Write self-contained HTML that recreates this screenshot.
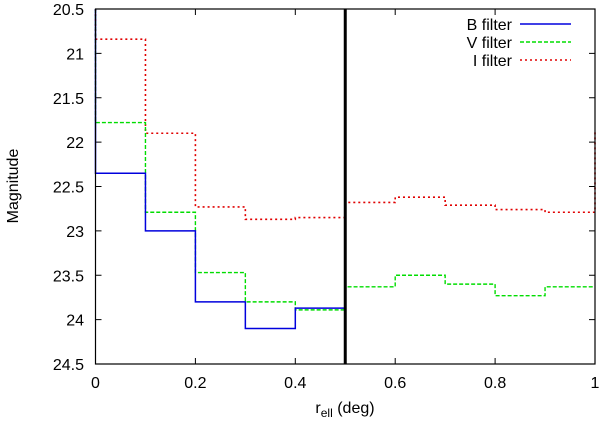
<!DOCTYPE html>
<html><head><meta charset="utf-8"><style>
body{margin:0;background:#fff;}
svg{display:block;font-family:"Liberation Sans",sans-serif;}
</style></head><body>
<svg id="chart" width="600" height="421"></svg>
<script>
const xEdges=[0,0.1,0.2,0.3,0.4,0.5,0.6,0.7,0.8,0.9,1.0];
const bVals=[22.35,23.0,23.8,24.1,23.87];
const vVals=[21.78,22.79,23.47,23.8,23.89,23.63,23.5,23.6,23.73,23.63];
const iVals=[20.84,21.9,22.73,22.87,22.85,22.68,22.62,22.71,22.76,22.79];
const iEndVal=21.88;
const xTicks=[0,0.2,0.4,0.6,0.8,1];
const xTickLabels=["0","0.2","0.4","0.6","0.8","1"];
const yTicks=[20.5,21,21.5,22,22.5,23,23.5,24,24.5];
const yTickLabels=["20.5","21","21.5","22","22.5","23","23.5","24","24.5"];
const cutX=0.5;

const L=95.5,R=595,T=9,B=364,ymin=20.5,ymax=24.5;
const sx=v=>L+(v-0)/(1-0)*(R-L);
const sy=v=>T+(v-ymin)/(ymax-ymin)*(B-T);
const svg=document.getElementById('chart');
const NS="http://www.w3.org/2000/svg";
function mk(tag,attrs,parent){const e=document.createElementNS(NS,tag);for(const k in attrs)e.setAttribute(k,attrs[k]);(parent||svg).appendChild(e);return e;}

const axes=mk('g',{});


xTicks.forEach((t,i)=>{
  const x=sx(t);
  const a=mk('line',{x1:x,x2:x,y1:B,y2:B-6,stroke:'#000','stroke-width':1},axes);
  
  
  const b=mk('line',{x1:x,x2:x,y1:T,y2:T+6,stroke:'#000','stroke-width':1},axes);
  
  
  const tx=mk('text',{x:x,y:388,'text-anchor':'middle','font-size':16},axes);
  tx.textContent=xTickLabels[i];
  
  
});
yTicks.forEach((t,i)=>{
  const y=sy(t);
  const a=mk('line',{x1:L,x2:L+6,y1:y,y2:y,stroke:'#000','stroke-width':1},axes);
  
  
  const b=mk('line',{x1:R,x2:R-6,y1:y,y2:y,stroke:'#000','stroke-width':1},axes);
  
  
  const tx=mk('text',{x:84,y:y+6,'text-anchor':'end','font-size':16},axes);
  tx.textContent=yTickLabels[i];
  
  
});

function stepPath(vals,endV){
  let d='M'+sx(xEdges[0])+','+sy(ymin);
  vals.forEach((v,i)=>{d+=' L'+sx(xEdges[i])+','+sy(v)+' L'+sx(xEdges[i+1])+','+sy(v);});
  if(endV!==undefined)d+=' L'+sx(xEdges[vals.length])+','+sy(endV);
  return d;
}
const pi=mk('path',{d:stepPath(iVals,iEndVal),fill:'none',stroke:'#e00000','stroke-width':1.6,'stroke-dasharray':'2,3'});


const pv=mk('path',{d:stepPath(vVals),fill:'none',stroke:'#00dd00','stroke-width':1.4,'stroke-dasharray':'4,2'});


const pb=mk('path',{d:stepPath(bVals),fill:'none',stroke:'#0000dd','stroke-width':1.5});



const cut=mk('line',{x1:sx(cutX),x2:sx(cutX),y1:T,y2:B,stroke:'#000','stroke-width':3});



const frame=mk('rect',{x:L,y:T,width:R-L,height:B-T,fill:'none',stroke:'#000','stroke-width':1.2});



const leg=mk('g',{});


const legItems=[["B filter",'#0000dd','none',1.5],["V filter",'#00dd00','4,2',1.4],["I filter",'#e00000','2,3',1.6]];
legItems.forEach((it,i)=>{
  const y=24+i*18;
  const t=mk('text',{x:512,y:y+6,'text-anchor':'end','font-size':16},leg);
  t.textContent=it[0];
  
  
  const l=mk('line',{x1:520,x2:571,y1:y,y2:y,stroke:it[1],'stroke-width':it[3],'stroke-dasharray':it[2]},leg);
  
  
});

const xl=mk('text',{x:345,y:413,'text-anchor':'middle','font-size':16});
xl.innerHTML='r<tspan font-size="12" dy="4">ell</tspan><tspan dy="-4"> (deg)</tspan>';


const yl=mk('text',{x:0,y:0,'text-anchor':'middle','font-size':16,transform:'translate(18,186) rotate(-90)'});
yl.textContent='Magnitude';


</script>
</body></html>
